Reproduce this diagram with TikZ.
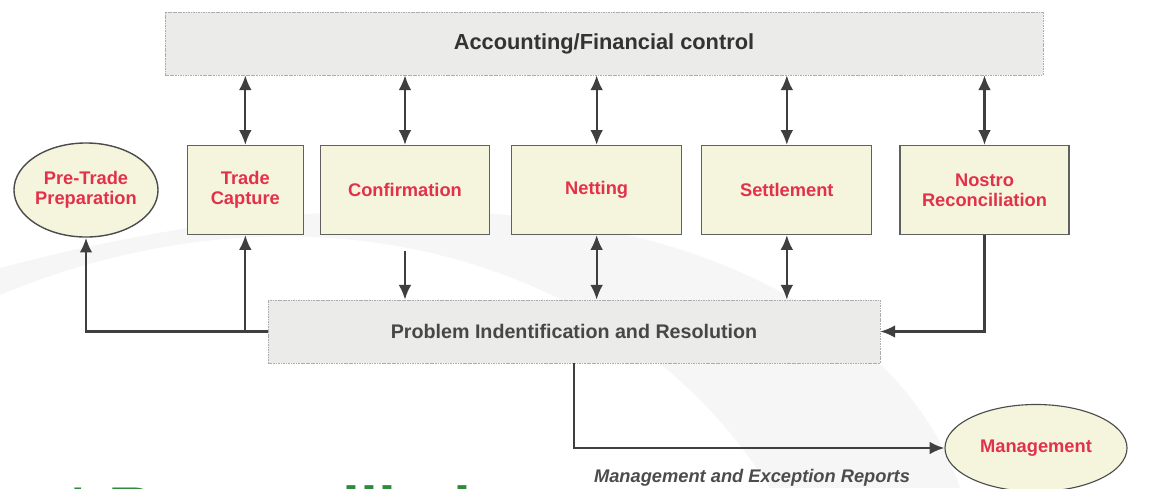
\documentclass[tikz,border=0pt]{standalone}
\usepackage{fontspec}
\setmainfont{Liberation Sans}
\usepackage{tikz}
\usetikzlibrary{shapes, arrows.meta, positioning, calc}

\definecolor{barfill}{HTML}{EBEBE9}
\definecolor{stepfill}{HTML}{F5F4DC}
\definecolor{stepred}{HTML}{E2314B}
\definecolor{linkgray}{HTML}{3F3F3F}
\definecolor{titlegreen}{HTML}{2E8B3C}

\begin{document}
\begin{tikzpicture}[
        x=0.025cm, y=-0.025cm,
        bar/.style={rectangle, draw=gray!65, dash pattern=on 1.2pt off 0.6pt, fill=barfill, minimum height=1.575cm, font=\fontsize{15.5}{18}\selectfont\bfseries, text=black!80},
        box/.style={rectangle, draw=gray!75!black, line width=0.8pt, fill=stepfill, minimum width=4.25cm, minimum height=2.225cm, align=center, font=\fontsize{13}{14.5}\selectfont\bfseries, text=stepred},
        oval/.style={ellipse, draw=black!70, line width=1pt, fill=stepfill, inner sep=0pt, align=center, font=\fontsize{13}{14.5}\selectfont\bfseries, text=stepred},
        link/.style={draw=linkgray, line width=1.6pt, >={Latex[length=10.5pt,width=9pt]}},
        swoosh/.style={fill=gray!7}
    ]
        \useasboundingbox (0,0) rectangle (1157,488);
        \fill[white] (0,0) rectangle (1157,488);
        \fill[swoosh] (0,295) .. controls (300,170) and (620,250) .. (770,488) -- (960,488) .. controls (890,280) and (560,120) .. (0,268) -- cycle;

        \node[bar, minimum width=21.95cm] (acct) at (604,43.5) {Accounting/Financial control};

        \node[oval, minimum width=3.6cm, minimum height=2.35cm] (pre) at (86,190) {Pre-Trade\\Preparation};
        \node[box, minimum width=2.9cm, right=0.7cm of pre] (tc) {Trade\\Capture};
        \node[box, minimum width=4.225cm, right=0.4cm of tc] (conf) {Confirmation};
        \node[box, right=0.525cm of conf] (net) {Netting};
        \node[box, right=0.475cm of net] (settle) {Settlement};
        \node[box, minimum width=4.225cm, right=0.675cm of settle] (nostro) {Nostro\\Reconciliation};

        \node[bar, minimum width=15.3cm, font=\fontsize{14}{16}\selectfont\bfseries, text=black!72] (prob) at (574,331.5) {Problem Indentification and Resolution};
        \node[oval, minimum width=4.55cm, minimum height=2.175cm, line width=0.8pt] (mgmt) at (1036,448) {Management};
        \node[font=\fontsize{13}{15}\selectfont\bfseries\itshape, text=black!70] (reports) at (752,478) {Management and Exception Reports};
        \node[anchor=base west, inner sep=0pt, font=\fontsize{46}{50}\selectfont\bfseries, text=titlegreen] (heading) at (26,532) {n* Reconciliation};

        \foreach \n in {tc, conf, net, settle, nostro}
            \draw[link, <->] (\n.north) -- (\n.north |- acct.south);
        \draw[link, ->, shorten <=0.4cm] (conf.south) -- (conf.south |- prob.north);
        \foreach \n in {net, settle}
            \draw[link, <->] (\n.south) -- (\n.south |- prob.north);
        \draw[link, ->] (prob.west) -| (pre.south);
        \draw[link, ->] (tc.south |- prob.west) -- (tc.south);
        \draw[link, ->] (nostro.south) |- (prob.east);
        \draw[link, ->] (prob.south) |- (mgmt.west);
    \end{tikzpicture}
\end{document}
